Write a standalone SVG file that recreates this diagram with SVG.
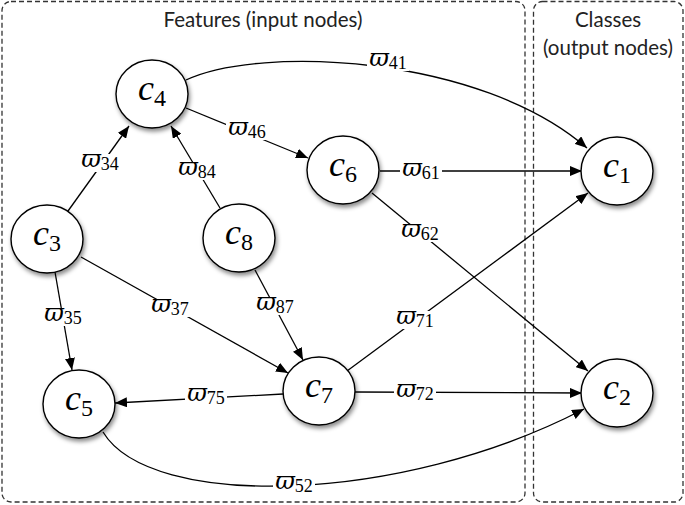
<svg xmlns="http://www.w3.org/2000/svg" width="685" height="505" viewBox="0 0 685 505">
<defs>
<filter id="sh" x="-30%" y="-30%" width="160%" height="160%">
<feDropShadow dx="1.5" dy="3" stdDeviation="2" flood-color="#000" flood-opacity="0.45"/>
</filter>
<marker id="ah" viewBox="0 0 12 10" refX="12" refY="5" markerWidth="12" markerHeight="10" markerUnits="userSpaceOnUse" orient="auto">
<path d="M0,0 L12,5 L0,10 z" fill="#000"/>
</marker>
</defs>
<style>
.box{fill:none;stroke:#333;stroke-width:1.3;stroke-dasharray:5 3}
.title{font-family:Lato,"Open Sans","Liberation Sans",sans-serif;font-size:20.5px;fill:#222;text-anchor:middle}
.node ellipse{fill:#fff;stroke:#000;stroke-width:1.4;filter:url(#sh)}
.nl{font-family:"Liberation Serif","DejaVu Serif",serif;font-size:36px;text-anchor:middle;fill:#000}
.nl .v{font-style:italic}
.nl .s{font-size:24px}
.e{fill:none;stroke:#000;stroke-width:1.3}
.a{marker-end:url(#ah)}
.lb rect{fill:#fff}
.lt{font-family:"DejaVu Serif","Liberation Serif",serif;font-size:24px;text-anchor:middle;fill:#000}
.lt .v{font-style:italic}
.lt .s{font-family:"Liberation Serif",serif;font-size:18px}
</style>
<rect class="box" x="2" y="1.5" width="523" height="500.5" rx="9"/>
<rect class="box" x="533.5" y="1.5" width="149.5" height="500.5" rx="9"/>
<text class="title" x="263" y="27">Features (input nodes)</text>
<text class="title" x="608" y="27">Classes</text>
<text class="title" x="608" y="55">(output nodes)</text>
<g id="connectors">
<path class="e a" d="M186,80 C260,45 480,55 587,148"/>
<path class="e a" d="M186,108 L308,158"/>
<path class="e a" d="M68,211 L129,126"/>
<path class="e a" d="M220,208 L171,126"/>
<path class="e a" d="M380,171 L582,171"/>
<path class="e a" d="M372,193 L588,371"/>
<path class="e a" d="M347,371 L588,193"/>
<path class="e a" d="M355,392 L582,393"/>
<path class="e a" d="M283,394 L115,403"/>
<path class="e a" d="M55,272 L72,370"/>
<path class="e a" d="M81,257 L288,373"/>
<path class="e a" d="M255,270 L303,360"/>
<path class="e a" d="M103,432 C150,510 400,505 584,409"/>
<g class="lb">
<rect x="367" y="53" width="42" height="18"/><text class="lt" x="388" y="66"><tspan class="v">ϖ</tspan><tspan class="s" dy="3">41</tspan></text>
<rect x="226" y="122" width="42" height="18"/><text class="lt" x="247" y="135"><tspan class="v">ϖ</tspan><tspan class="s" dy="3">46</tspan></text>
<rect x="79" y="154" width="42" height="18"/><text class="lt" x="100" y="167"><tspan class="v">ϖ</tspan><tspan class="s" dy="3">34</tspan></text>
<rect x="176" y="162" width="42" height="18"/><text class="lt" x="197" y="175"><tspan class="v">ϖ</tspan><tspan class="s" dy="3">84</tspan></text>
<rect x="400" y="163" width="42" height="18"/><text class="lt" x="421" y="176"><tspan class="v">ϖ</tspan><tspan class="s" dy="3">61</tspan></text>
<rect x="399" y="224" width="42" height="18"/><text class="lt" x="420" y="237"><tspan class="v">ϖ</tspan><tspan class="s" dy="3">62</tspan></text>
<rect x="394" y="311" width="42" height="18"/><text class="lt" x="415" y="324"><tspan class="v">ϖ</tspan><tspan class="s" dy="3">71</tspan></text>
<rect x="394" y="384" width="42" height="18"/><text class="lt" x="415" y="397"><tspan class="v">ϖ</tspan><tspan class="s" dy="3">72</tspan></text>
<rect x="185" y="388" width="42" height="18"/><text class="lt" x="206" y="401"><tspan class="v">ϖ</tspan><tspan class="s" dy="3">75</tspan></text>
<rect x="42" y="308" width="42" height="18"/><text class="lt" x="63" y="321"><tspan class="v">ϖ</tspan><tspan class="s" dy="3">35</tspan></text>
<rect x="149" y="299" width="42" height="18"/><text class="lt" x="170" y="312"><tspan class="v">ϖ</tspan><tspan class="s" dy="3">37</tspan></text>
<rect x="254" y="297" width="42" height="18"/><text class="lt" x="275" y="310"><tspan class="v">ϖ</tspan><tspan class="s" dy="3">87</tspan></text>
<rect x="273" y="476" width="42" height="18"/><text class="lt" x="294" y="489"><tspan class="v">ϖ</tspan><tspan class="s" dy="3">52</tspan></text>
</g>
</g>
<g id="c1" class="node"><ellipse cx="617" cy="171" rx="36" ry="34"/><text class="nl" x="617" y="177"><tspan class="v">c</tspan><tspan class="s" dy="6">1</tspan></text></g>
<g id="c2" class="node"><ellipse cx="617" cy="393" rx="36" ry="34"/><text class="nl" x="617" y="399"><tspan class="v">c</tspan><tspan class="s" dy="6">2</tspan></text></g>
<g id="c3" class="node"><ellipse cx="47" cy="239" rx="36" ry="34"/><text class="nl" x="47" y="245"><tspan class="v">c</tspan><tspan class="s" dy="6">3</tspan></text></g>
<g id="c4" class="node"><ellipse cx="152" cy="94" rx="36" ry="34"/><text class="nl" x="152" y="100"><tspan class="v">c</tspan><tspan class="s" dy="6">4</tspan></text></g>
<g id="c5" class="node"><ellipse cx="79" cy="404" rx="36" ry="34"/><text class="nl" x="79" y="410"><tspan class="v">c</tspan><tspan class="s" dy="6">5</tspan></text></g>
<g id="c6" class="node"><ellipse cx="343" cy="170" rx="36" ry="34"/><text class="nl" x="343" y="176"><tspan class="v">c</tspan><tspan class="s" dy="6">6</tspan></text></g>
<g id="c7" class="node"><ellipse cx="319" cy="391" rx="36" ry="34"/><text class="nl" x="319" y="397"><tspan class="v">c</tspan><tspan class="s" dy="6">7</tspan></text></g>
<g id="c8" class="node"><ellipse cx="239" cy="238" rx="36" ry="34"/><text class="nl" x="239" y="244"><tspan class="v">c</tspan><tspan class="s" dy="6">8</tspan></text></g>
</svg>
